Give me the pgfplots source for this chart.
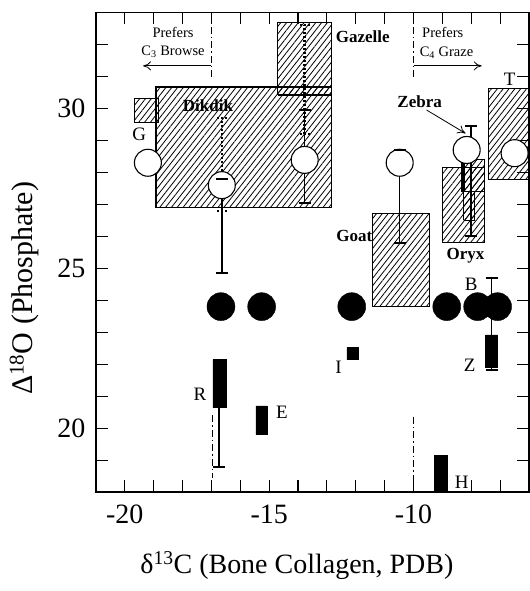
\documentclass[border=0pt]{standalone}
\usepackage{fontspec}
\setmainfont{Liberation Serif}
\usepackage{pgfplots}
\pgfplotsset{compat=1.18}
\usetikzlibrary{patterns.meta,arrows.meta}
\tikzset{
  hatch/.style={draw=black, line width=1.1pt, pattern={Lines[angle=52,distance=4.6pt,line width=0.8pt]}},
  blk/.style={draw=black, fill=black, line width=0.5pt},
  ebar/.style={black, line width=1.6pt, mark=-, mark size=6pt, mark options={solid, line width=2pt}},
  dbar/.style={black, line width=2.4pt, dash pattern=on 2pt off 2pt, mark=-, mark size=5pt, mark options={dash pattern=on 2pt off 2pt, line width=2.4pt}},
  dd/.style={black, line width=1pt, dash pattern=on 7pt off 3pt on 1.5pt off 3pt},
  bl/.style={font=\bfseries\fontsize{17}{19}\selectfont},
  ll/.style={font=\fontsize{19}{21}\selectfont},
  pl/.style={font=\fontsize{14.5}{16}\selectfont},
}
\begin{document}
\begin{tikzpicture}
\begin{axis}[
  scale only axis, width=433.5pt, height=480pt,
  xmin=-21, xmax=-6, ymin=18, ymax=33,
  xtick={-20,-15,-10}, ytick={20,25,30},
  minor xtick={-21,...,-6}, minor ytick={18,...,33},
  tick align=inside, major tick length=12pt, minor tick length=12pt,
  tick style={black, line width=1.1pt},
  axis line style={line width=1.3pt},
  ticklabel style={font=\fontsize{28}{32}\selectfont},
  /pgf/number format/assume math mode=true,
  xticklabel style={yshift=-9pt},
  yticklabel style={xshift=-7pt},
  xlabel={δ\textsuperscript{13}C (Bone Collagen, PDB)},
  ylabel={Δ\textsuperscript{18}O (Phosphate)},
  xlabel style={font=\fontsize{28}{32}\selectfont, at={(axis description cs:0.464,-0.154)}, anchor=center},
  ylabel style={font=\fontsize{30}{34}\selectfont, at={(axis description cs:-0.165,0.425)}, anchor=center},
]
% hatched ranges
\addplot[hatch] coordinates {(-18.92,26.89) (-12.83,26.89) (-12.83,30.67) (-18.92,30.67) (-18.92,26.89)};
\addplot[hatch] coordinates {(-14.70,30.42) (-12.83,30.42) (-12.83,32.70) (-14.70,32.70) (-14.70,30.42)};
\addplot[hatch] coordinates {(-19.65,29.55) (-18.82,29.55) (-18.82,30.30) (-19.65,30.30) (-19.65,29.55)};
\addplot[hatch] coordinates {(-11.42,23.80) (-9.44,23.80) (-9.44,26.70) (-11.42,26.70) (-11.42,23.80)};
\addplot[hatch] coordinates {(-8.99,25.80) (-7.54,25.80) (-7.54,28.14) (-8.99,28.14) (-8.99,25.80)};
\addplot[hatch] coordinates {(-8.34,27.39) (-7.54,27.39) (-7.54,28.39) (-8.34,28.39) (-8.34,27.39)};
\addplot[hatch] coordinates {(-8.27,26.50) (-7.90,26.50) (-7.90,27.39) (-8.27,27.39) (-8.27,26.50)};
\addplot[hatch] coordinates {(-7.40,27.77) (-5.00,27.77) (-5.00,30.61) (-7.40,30.61) (-7.40,27.77)};
% open circles
\addplot[only marks, mark=*, mark size=13.5pt, mark options={fill=white, draw=black, line width=1.1pt}] coordinates {(-19.2,28.3) (-16.64,27.6) (-13.77,28.39) (-10.48,28.3) (-8.16,28.7) (-6.5,28.6)};
% error bars
\addplot[dbar] coordinates {(-16.64,26.8) (-16.64,29.7)};
\addplot[dbar] coordinates {(-13.77,29.2) (-13.77,32.6)};
\addplot[ebar] coordinates {(-16.64,24.86) (-16.64,27.8)};
\addplot[ebar] coordinates {(-16.74,18.77) (-16.74,21.67)};
\addplot[ebar] coordinates {(-13.77,27.05) (-13.77,29.95)};
\addplot[ebar] coordinates {(-10.48,25.8) (-10.48,28.7)};
\addplot[ebar] coordinates {(-7.30,21.83) (-7.30,24.70)};
\addplot[ebar] coordinates {(-8.02,26.02) (-8.02,29.45)};
\addplot[black, line width=4pt] coordinates {(-8.30,27.4) (-8.30,28.95)};
% filled circles
\addplot[only marks, mark=*, mark size=14pt, mark options={fill=black, draw=black}] coordinates {(-16.67,23.8) (-15.26,23.8) (-12.14,23.8) (-8.85,23.8) (-7.78,23.8) (-7.09,23.8)};
% black bars
\addplot[blk] coordinates {(-16.95,20.64) (-16.5,20.64) (-16.5,22.14) (-16.95,22.14) (-16.95,20.64)};
\addplot[blk] coordinates {(-15.46,19.8) (-15.08,19.8) (-15.08,20.7) (-15.46,20.7) (-15.46,19.8)};
\addplot[blk] coordinates {(-12.31,22.14) (-11.9,22.14) (-11.9,22.52) (-12.31,22.52) (-12.31,22.14)};
\addplot[blk] coordinates {(-7.5,21.89) (-7.09,21.89) (-7.09,22.92) (-7.5,22.92) (-7.5,21.89)};
\addplot[blk] coordinates {(-9.27,18) (-8.82,18) (-8.82,19.14) (-9.27,19.14) (-9.27,18)};
% dash-dot reference lines
\addplot[dd] coordinates {(-17,33) (-17,30.9)};
\addplot[dd] coordinates {(-10,33) (-10,30.9)};
\addplot[dd] coordinates {(-16.97,20.4) (-16.97,18.45)};
\addplot[dd] coordinates {(-10,20.36) (-10,18.2)};
% arrows
\addplot[black, line width=0.8pt, -{To[length=8pt,width=9pt]}] coordinates {(-17,31.33) (-19.37,31.33)};
\addplot[black, line width=0.8pt, -{To[length=8pt,width=9pt]}] coordinates {(-10,31.33) (-7.64,31.33)};
\addplot[black, line width=0.8pt, -{To[length=8pt,width=9pt]}] coordinates {(-9.55,29.95) (-8.2,29.22)};
% labels
\node[pl] at (axis cs:-18.33,32.36) {Prefers};
\node[pl] at (axis cs:-18.33,31.77) {C\textsubscript{3} Browse};
\node[pl] at (axis cs:-8.99,32.36) {Prefers};
\node[pl] at (axis cs:-8.86,31.74) {C\textsubscript{4} Graze};
\node[bl] at (axis cs:-17.12,30.08) {Dikdik};
\node[bl] at (axis cs:-11.76,32.23) {Gazelle};
\node[bl] at (axis cs:-9.79,30.2) {Zebra};
\node[bl] at (axis cs:-8.2,25.4) {Oryx};
\node[bl, anchor=east, inner sep=0pt] at (axis cs:-11.42,26.0) {Goat};
\node[ll] at (axis cs:-19.5,29.2) {G};
\node[ll] at (axis cs:-17.4,21.05) {R};
\node[ll] at (axis cs:-14.56,20.5) {E};
\node[ll] at (axis cs:-12.6,21.9) {I};
\node[ll] at (axis cs:-8.0,24.5) {B};
\node[ll] at (axis cs:-8.06,21.98) {Z};
\node[ll] at (axis cs:-8.33,18.3) {H};
\node[ll] at (axis cs:-6.67,30.9) {T};
\end{axis}
\pgfresetboundingbox
\path[use as bounding box] (current axis.south west) ++(-96pt,-99pt) rectangle ++(529.5pt,591.5pt);
\end{tikzpicture}
\end{document}
